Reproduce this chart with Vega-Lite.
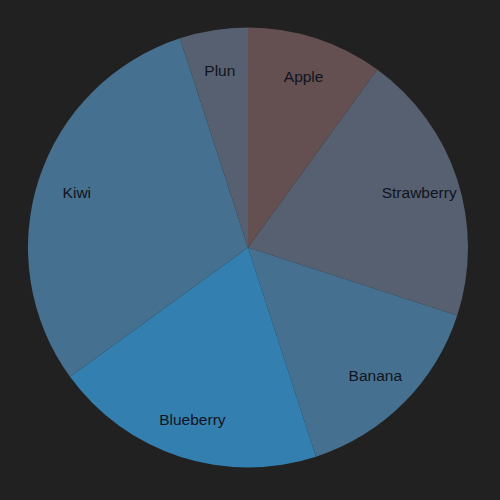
{
  "$schema": "https://vega.github.io/schema/vega-lite/v6.json",
  "width": 500,
  "height": 500,
  "autosize": {"type": "fit", "contains": "padding"},
  "padding": {"left": 0, "top": 0, "right": 4, "bottom": 5},
  "background": "#212121",
  "config": {"view": {"stroke": null}},
  "data": {"values": [
    {"fruit": "Apple", "value": 10, "k": 1},
    {"fruit": "Strawberry", "value": 20, "k": 2},
    {"fruit": "Banana", "value": 15, "k": 3},
    {"fruit": "Blueberry", "value": 20, "k": 4},
    {"fruit": "Kiwi", "value": 30, "k": 5},
    {"fruit": "Plun", "value": 5, "k": 6}
  ]},
  "encoding": {
    "theta": {"field": "value", "type": "quantitative", "stack": true},
    "order": {"field": "k", "type": "quantitative"},
    "color": {
      "field": "fruit", "type": "nominal", "legend": null,
      "scale": {
        "domain": ["Apple", "Strawberry", "Banana", "Blueberry", "Kiwi", "Plun"],
        "range": ["#645050", "#566070", "#46708f", "#3380b0", "#46708f", "#566070"]
      }
    }
  },
  "layer": [
    {"mark": {"type": "arc", "outerRadius": 220}},
    {
      "mark": {"type": "text", "radius": 180, "dy": 1, "fontSize": 15.5, "font": "Liberation Sans", "color": "#111420"},
      "encoding": {"text": {"field": "fruit"}, "color": {"value": "#111420"}}
    }
  ]
}
